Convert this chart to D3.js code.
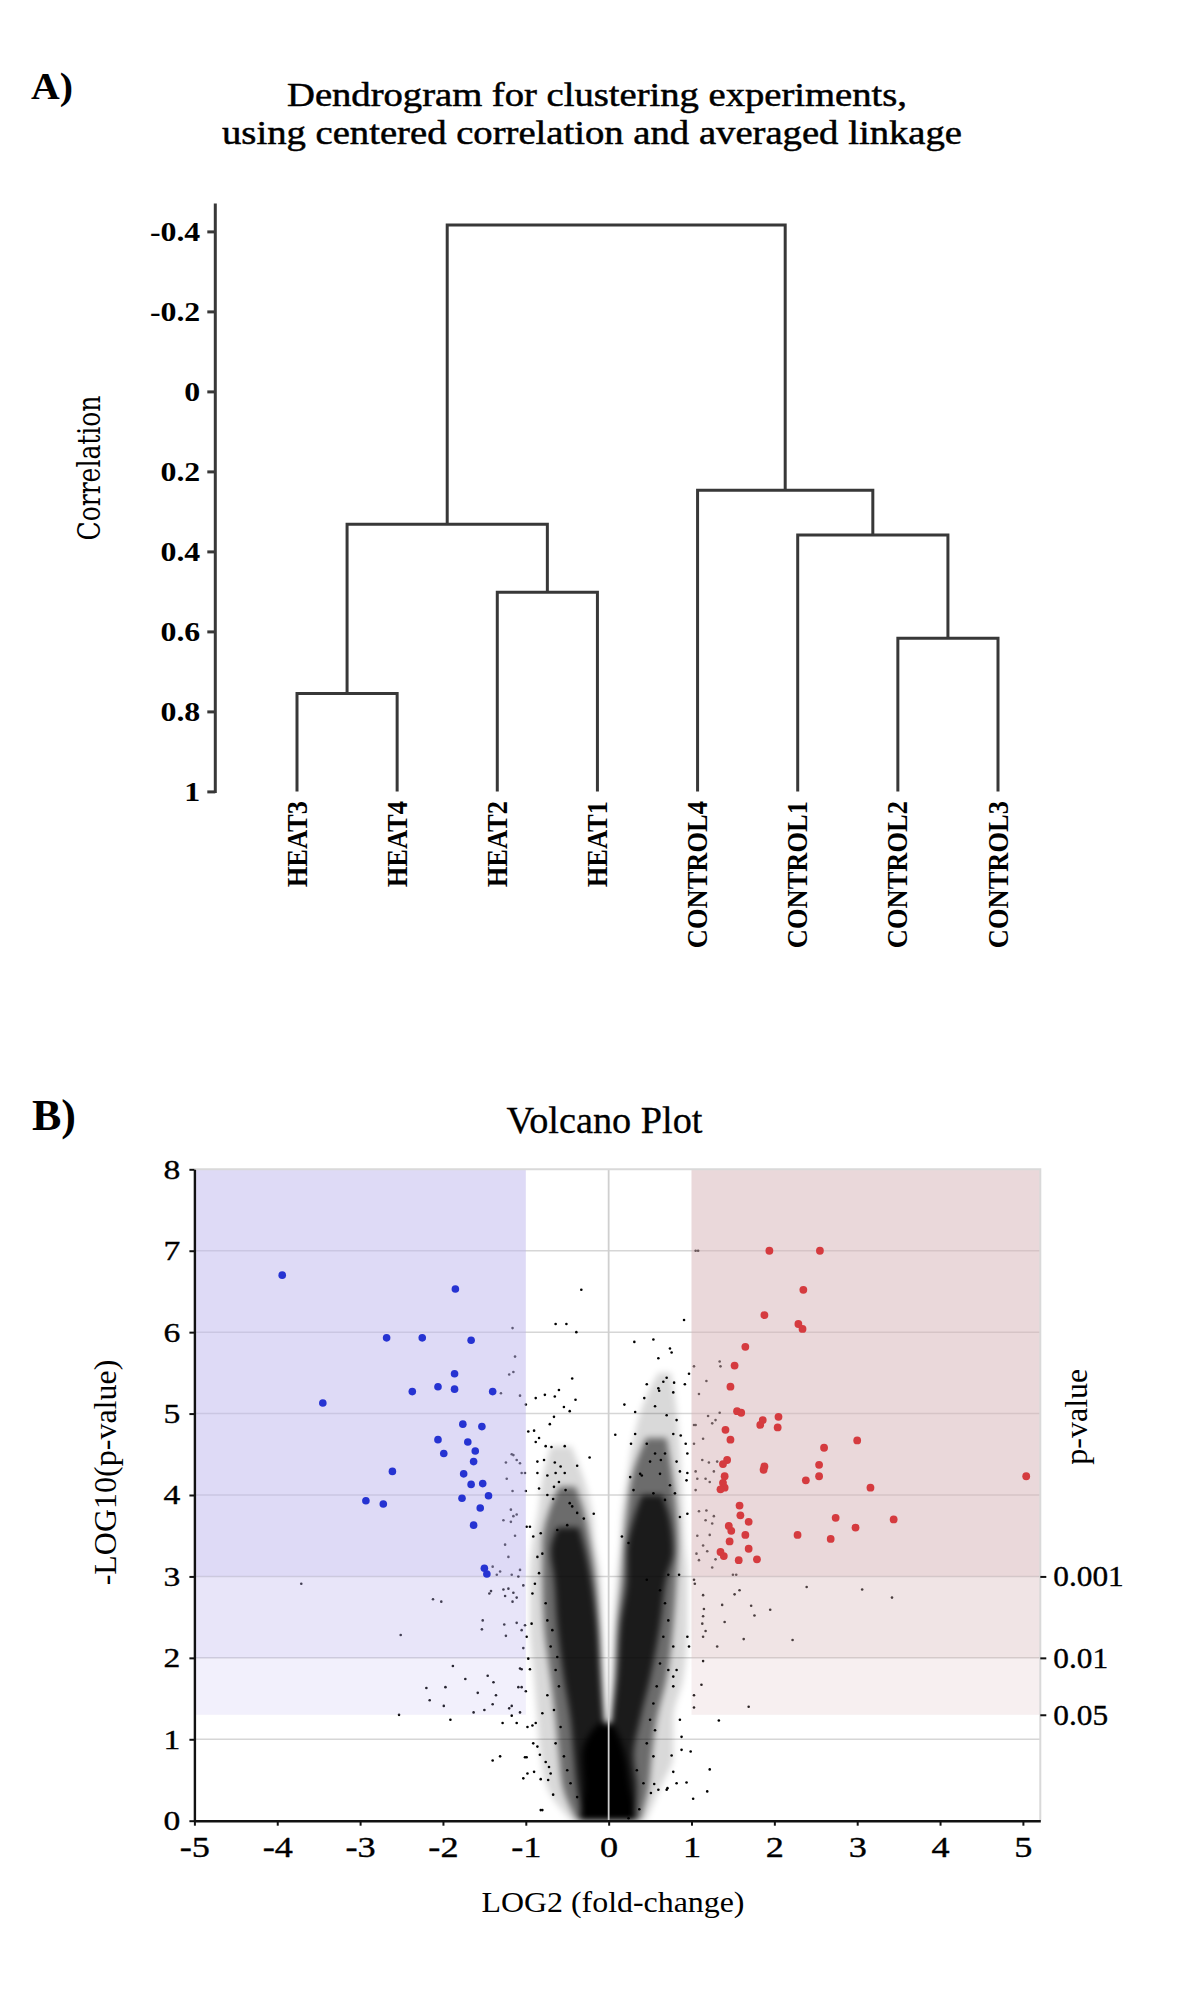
<!DOCTYPE html>
<html><head><meta charset="utf-8">
<script src="https://cdnjs.cloudflare.com/ajax/libs/d3/7.8.5/d3.min.js"></script>
<style>body{margin:0;background:#fff}svg{display:block}</style>
</head><body><svg id="c" width="1200" height="2006"></svg>
<script>
// ================= DATA =================
// Panel A : dendrogram (centered correlation, average linkage)
const leafNames = ["HEAT3","HEAT4","HEAT2","HEAT1","CONTROL4","CONTROL1","CONTROL2","CONTROL3"];
const leafHeight = 1;
const mergeA = ["HEAT3","HEAT2","CONTROL2","CONTROL1","m1","CONTROL4","m5"];
const mergeB = ["HEAT4","HEAT1","CONTROL3","m3","m2","m4","m6"];
const mergeHeight = [0.755, 0.502, 0.617, 0.359, 0.332, 0.247, -0.416];
const corrTicks = [-0.4,-0.2,0,0.2,0.4,0.6,0.8,1];
const corrTickLabels = ["-0.4","-0.2","0","0.2","0.4","0.6","0.8","1"];

// Panel B : volcano plot
const fcTicks = [-5,-4,-3,-2,-1,0,1,2,3,4,5];
const fcTickLabels = ["-5","-4","-3","-2","-1","0","1","2","3","4","5"];
const logpTicks = [0,1,2,3,4,5,6,7,8];
const logpTickLabels = ["0","1","2","3","4","5","6","7","8"];
const pValueTicks = [0.001, 0.01, 0.05];
const pValueLabels = ["0.001","0.01","0.05"];
const fcThreshold = 1;

// significant down-regulated (blue): [log2FC, -log10 p]
const downGenes = [[-3.94,6.70],[-1.85,6.53],[-2.68,5.93],[-2.25,5.93],[-1.66,5.90],[-1.86,5.49],[-2.06,5.33],[-1.86,5.30],[-2.37,5.27],[-1.40,5.27],[-3.45,5.13],[-1.76,4.87],[-1.53,4.84],[-2.06,4.68],[-1.70,4.65],[-1.99,4.51],[-1.61,4.54],[-1.63,4.41],[-2.61,4.29],[-1.75,4.26],[-1.66,4.13],[-1.52,4.14],[-1.45,3.99],[-1.77,3.96],[-2.93,3.93],[-2.72,3.89],[-1.55,3.84],[-1.63,3.63],[-1.50,3.10],[-1.47,3.03]];
// significant up-regulated (red)
const upGenes = [[1.94,7.00],[2.55,7.00],[2.35,6.52],[1.88,6.21],[2.29,6.10],[2.34,6.04],[1.65,5.82],[1.52,5.59],[1.47,5.33],[1.55,5.03],[1.60,5.01],[2.05,4.96],[1.86,4.92],[1.83,4.86],[2.04,4.83],[1.41,4.80],[1.47,4.68],[3.00,4.67],[2.60,4.58],[1.43,4.43],[1.38,4.38],[2.54,4.37],[1.88,4.35],[1.87,4.31],[1.40,4.23],[5.04,4.23],[2.54,4.23],[2.38,4.18],[1.38,4.15],[1.40,4.09],[1.35,4.07],[3.16,4.09],[1.58,3.87],[1.59,3.75],[2.74,3.72],[3.44,3.70],[1.69,3.67],[1.45,3.62],[1.48,3.56],[2.98,3.60],[1.65,3.51],[2.28,3.51],[2.68,3.46],[1.46,3.43],[1.69,3.34],[1.35,3.30],[1.39,3.25],[1.57,3.20],[1.79,3.21]];
// other genes (sparse part of the cloud)
const otherGenes = [[-3.71,2.91],[-1.40,3.12],[-1.31,3.06],[-1.35,3.02],[-1.17,3.02],[-1.09,3.00],[-1.44,2.79],[-1.42,2.82],[-1.27,2.84],[-1.21,2.85],[-1.25,2.76],[-1.15,2.80],[-1.11,2.74],[-1.16,2.69],[-2.12,2.72],[-2.02,2.69],[-1.03,2.89],[-1.52,2.46],[-1.53,2.35],[-2.51,2.28],[-1.26,2.41],[-1.24,2.27],[-1.11,2.43],[-1.05,2.34],[-1.01,2.40],[-1.03,2.12],[-1.88,1.90],[-1.73,1.74],[-1.46,1.78],[-1.39,1.70],[-2.20,1.63],[-2.16,1.48],[-1.97,1.64],[-1.58,1.57],[-1.36,1.54],[-1.09,1.64],[-1.05,1.64],[-1.07,1.87],[-1.05,1.86],[-1.00,1.59],[-1.99,1.41],[-1.40,1.43],[-1.20,1.38],[-1.17,1.41],[-1.50,1.36],[-1.63,1.33],[-1.07,1.33],[-2.53,1.30],[-1.91,1.24],[-1.28,1.20],[-1.17,1.29],[-1.11,1.20],[-1.40,0.74],[-1.31,0.79],[-1.01,0.78],[-0.82,0.13],[-1.03,0.52],[-0.98,0.58],[-0.90,0.60],[-0.98,1.15],[-0.92,1.17],[-0.88,1.20],[-0.67,0.32],
[1.04,2.91],[1.03,2.96],[1.50,3.02],[1.54,3.02],[1.58,2.83],[1.52,2.78],[2.39,2.87],[1.14,2.77],[1.15,2.60],[1.14,2.51],[1.13,2.42],[1.17,2.33],[1.14,2.26],[1.37,2.65],[1.72,2.64],[1.76,2.52],[1.40,2.44],[1.95,2.59],[1.63,2.23],[2.22,2.22],[1.31,2.14],[1.14,1.96],[1.12,1.67],[1.69,1.40],[1.33,1.23],[1.03,1.54],[1.03,1.39],[0.99,0.85],[1.02,0.27],[1.22,0.63],[1.19,0.36],[0.76,0.80],[0.78,0.60],[0.94,0.47],[0.82,0.46],[0.60,0.38],[0.70,0.38],[0.88,0.87],[0.88,1.03],[0.86,1.24],[0.78,1.65],[0.95,2.26],[0.97,2.14],[0.78,1.77],[0.82,1.85],[0.72,3.02],[0.85,3.02],[0.24,0.03],[0.37,0.14],[-0.80,0.13],[-0.99,0.78],[-0.82,0.51],[-0.73,0.50],[-0.70,0.58],[-0.83,0.81],[-0.76,0.72],[-0.72,0.66],[-0.91,0.95],[-0.86,0.91],[-0.97,1.99],[-0.95,1.86],[-0.99,2.26],[-0.93,2.42],[-0.92,2.79],[-0.89,2.91],[-0.84,3.04],[-0.76,2.67],[-0.74,2.46],[-0.68,2.34],[-0.70,2.14],[-0.62,2.01],[-0.64,1.85],[-0.60,1.65],[-0.74,1.54],[-0.66,1.36],[-0.80,1.32],[-0.58,1.15],[-0.64,0.95],[-0.54,0.79],[-0.50,0.62],[-0.46,0.46],[-0.38,0.29],[0.46,2.96],[0.62,2.83],[0.68,2.67],[0.72,2.46],[0.66,2.26],[0.78,2.14],[0.62,1.93],[0.72,1.85],[0.58,1.65],[0.54,1.44],[0.50,1.24],[0.56,1.11],[0.46,0.95],[0.54,0.79],[0.34,0.62],[0.42,0.46],
[-0.33,6.52],[-0.64,6.10],[-0.51,6.10],[-0.39,6.00],[-0.44,5.43],[-0.88,5.19],[-0.77,5.23],[-0.65,5.21],[-0.60,5.29],[-0.40,5.17],[-0.54,5.08],[-0.47,5.03],[-0.66,4.96],[-0.71,4.87],[-0.90,4.79],[-0.84,4.70],[-0.53,4.60],[-0.69,4.59],[-0.76,4.60],[-0.86,4.41],[-0.78,4.43],[-0.23,4.46],[-0.38,4.36],[-0.65,4.40],[-0.58,4.35],[-0.97,4.78],[-0.88,4.65],[-0.74,4.24],[-0.86,4.27],[-0.64,4.27],[-0.53,4.27],[-0.66,4.10],[-0.60,4.16],[-0.74,4.00],[-0.67,3.95],[-0.84,4.08],[-0.52,4.06],[-0.47,3.90],[-0.44,3.86],[-0.38,3.78],[-0.30,3.71],[-0.18,3.77],[-0.50,3.63],[-0.62,3.57],[-0.82,3.53],[-0.91,3.49],[-0.95,3.61],[-0.80,3.28],[-0.86,3.24],
[0.91,6.15],[0.31,5.88],[0.54,5.91],[0.60,5.68],[0.74,5.80],[0.76,5.75],[0.70,5.44],[0.79,5.38],[0.66,5.39],[0.46,5.36],[0.60,5.31],[0.61,5.28],[0.78,5.26],[0.92,5.36],[0.43,5.19],[0.19,5.11],[0.56,5.09],[0.32,5.02],[0.70,4.98],[0.82,4.92],[0.08,4.74],[0.27,4.63],[0.32,4.75],[0.46,4.63],[0.56,4.51],[0.78,4.75],[0.87,4.73],[0.93,4.63],[0.95,4.51],[0.68,4.51],[0.63,4.43],[0.50,4.41],[0.40,4.24],[0.82,4.41],[0.86,4.29],[0.26,4.22],[0.38,4.26],[0.62,4.26],[0.74,4.12],[0.95,4.27],[0.94,4.18],[0.30,4.06],[0.54,4.02],[0.80,4.02],[0.68,3.94],[0.86,3.73],[0.95,3.77],[0.16,3.49],[0.24,3.41],
[-1.16,6.05],[-1.13,5.70],[-1.20,5.48],[-1.15,5.51],[-1.30,5.25],[-1.07,5.22],[-1.00,5.11],[-1.17,4.50],[-1.15,4.49],[-1.24,4.40],[-1.11,4.43],[-1.07,4.39],[-1.05,4.27],[-1.01,4.27],[-1.23,4.20],[-1.16,4.05],[-1.00,4.05],[-1.18,3.82],[-1.18,3.67],[-1.15,3.74],[-1.11,3.76],[-1.27,3.69],[-0.99,3.61],[-1.25,3.39],[-1.21,3.24],[-1.13,3.50],[-1.07,3.08],
[1.03,5.58],[1.34,5.64],[1.35,5.58],[0.97,5.49],[1.18,5.40],[1.09,5.24],[1.20,4.97],[1.25,4.88],[1.29,4.92],[1.34,5.01],[1.03,4.86],[1.05,4.86],[1.14,4.69],[1.03,4.63],[1.13,4.43],[1.21,4.40],[1.31,4.41],[1.05,4.29],[1.07,4.20],[1.17,4.20],[1.22,4.16],[1.27,4.29],[1.05,4.06],[1.09,3.80],[1.18,3.81],[1.17,3.69],[1.25,3.65],[1.27,3.74],[1.07,3.50],[1.14,3.38],[1.22,3.51],[1.19,3.31],[1.29,3.21],[1.06,3.28],[1.09,3.20],[1.25,3.11],[1.05,7.00],[1.08,7.00],
[3.06,2.84],[3.42,2.74],[0.51,0.34],[0.71,0.40],[0.55,0.45]];
// dense part of the cloud, outlined as bands: [-log10 p, left log2FC, right log2FC]
const leftHaloBand = [[0,-0.45,0],[0.4,-0.74,0],[0.8,-0.82,0],[1.25,-0.86,-0.04],[1.75,-0.90,-0.06],[2.4,-0.95,-0.08],[3.0,-0.95,-0.10],[3.4,-0.92,-0.16],[3.8,-0.85,-0.20],[4.2,-0.80,-0.30],[4.6,-0.70,-0.45]];
const rightHaloBand = [[0,0,0.45],[0.4,0,0.62],[0.8,0,0.78],[1.25,0.02,0.78],[1.75,0.04,0.90],[2.4,0.06,0.95],[3.0,0.10,0.95],[3.4,0.14,0.92],[3.8,0.16,0.90],[4.2,0.22,0.88],[4.7,0.30,0.85],[5.2,0.45,0.80],[5.5,0.60,0.75]];
const leftMidBand = [[0,-0.38,0],[0.4,-0.55,0],[0.8,-0.60,0],[1.25,-0.64,-0.05],[1.75,-0.70,-0.08],[2.4,-0.78,-0.11],[3.0,-0.80,-0.16],[3.4,-0.80,-0.22],[3.8,-0.72,-0.30],[4.1,-0.60,-0.40]];
const rightMidBand = [[0,0,0.38],[0.4,0,0.48],[0.8,0,0.52],[1.25,0.03,0.58],[1.75,0.07,0.70],[2.4,0.10,0.78],[3.0,0.16,0.82],[3.4,0.18,0.84],[3.8,0.22,0.82],[4.3,0.30,0.76],[4.7,0.45,0.70]];
const leftDenseBand = [[0,-0.30,0],[0.4,-0.38,0],[0.8,-0.42,0],[1.25,-0.46,-0.06],[1.75,-0.54,-0.10],[2.4,-0.62,-0.14],[3.0,-0.66,-0.22],[3.3,-0.70,-0.28],[3.6,-0.62,-0.36]];
const rightDenseBand = [[0,0,0.30],[0.4,0,0.34],[0.8,0,0.30],[1.25,0.04,0.38],[1.75,0.10,0.50],[2.4,0.14,0.62],[3.0,0.22,0.70],[3.3,0.22,0.78],[3.7,0.30,0.74],[4.0,0.40,0.65]];
const coreBand = [[0,-0.34,0.32],[0.1,-0.34,0.32],[0.4,-0.30,0.26],[0.8,-0.32,0.20],[1.05,-0.24,0.12],[1.2,-0.12,0.04]];

// ================= DRAW =================
const svg = d3.select("#c");
const SERIF = "'Liberation Serif','Times New Roman',serif";
const DSERIF = "'DejaVu Serif',serif";

function label(t, x, y, size, opts) {
  opts = opts || {};
  const el = svg.append("text").attr("x", x).attr("y", y)
    .attr("font-family", opts.family || SERIF).attr("font-size", size)
    .attr("font-weight", opts.weight || "normal").attr("fill", "#000")
    .attr("text-anchor", opts.anchor || "middle").text(t);
  if (opts.len) el.attr("textLength", opts.len).attr("lengthAdjust", "spacingAndGlyphs");
  if (opts.heavy) el.attr("stroke", "#000").attr("stroke-width", opts.heavy);
  return el;
}

// ---------- Panel A ----------
label("A)", 31, 99, 38, {weight: "bold", anchor: "start", len: 42});
label("Dendrogram for clustering experiments,", 597, 106, 33, {len: 620, heavy: 0.5});
label("using centered correlation and averaged linkage", 592, 144, 33, {len: 740, heavy: 0.5});

const xLeaf = d3.scalePoint().domain(leafNames).range([297, 998]);
const yCorr = d3.scaleLinear().domain([-0.4, 1]).range([231.4, 791.4]);
const corrAxisTop = -0.47;

const gA = svg.append("g");
const nodes = {};
leafNames.forEach(n => nodes[n] = {x: xLeaf(n), h: leafHeight});
const linkPaths = [];
mergeA.forEach((a, i) => {
  const A = nodes[a], B = nodes[mergeB[i]], h = mergeHeight[i];
  linkPaths.push(`M${A.x},${yCorr(A.h)}V${yCorr(h)}H${B.x}V${yCorr(B.h)}`);
  nodes["m" + (i + 1)] = {x: (A.x + B.x) / 2, h: h};
});
gA.selectAll("path.link").data(linkPaths).join("path").attr("class", "link")
  .attr("d", d => d).attr("fill", "none").attr("stroke", "#383838")
  .attr("stroke-width", 3).attr("stroke-linejoin", "miter");

const axA = svg.append("g").attr("transform", "translate(215.3,0)")
  .call(d3.axisLeft(yCorr).tickValues(corrTicks).tickSize(8).tickPadding(7)
    .tickSizeOuter(0).tickFormat((d, i) => corrTickLabels[i]));
axA.select(".domain").remove();
axA.append("line").attr("x1", 0).attr("x2", 0).attr("y1", yCorr(corrAxisTop)).attr("y2", yCorr(1) + 1.5)
  .attr("stroke", "#383838").attr("stroke-width", 3);
axA.selectAll(".tick line").attr("stroke", "#383838").attr("stroke-width", 3);
axA.selectAll(".tick text").attr("x", 0).attr("font-family", SERIF).attr("font-weight", "bold")
  .attr("font-size", 27).attr("fill", "#000").attr("transform", "translate(-15,0) scale(1.18,1)");

svg.append("text").attr("transform", "translate(99.5,468) scale(1.3,1) rotate(-90)")
  .attr("text-anchor", "middle").attr("font-family", DSERIF).attr("font-size", 25)
  .attr("fill", "#000").text("Correlation");

svg.selectAll("text.leaf").data(leafNames).join("text").attr("class", "leaf")
  .attr("transform", d => `translate(${xLeaf(d)},801) scale(1.1,1) rotate(-90)`)
  .attr("dy", "0.33em").attr("text-anchor", "end").attr("font-family", SERIF).attr("font-weight", "bold")
  .attr("font-size", 26.5).attr("fill", "#000").text(d => d);

// ---------- Panel B ----------
label("B)", 32, 1130, 44, {weight: "bold", anchor: "start", len: 44});
label("Volcano Plot", 604.5, 1133, 37, {len: 196, heavy: 0.3});

const fcMax = 5.21;
const x = d3.scaleLinear().domain([-5, fcMax]).range([194.4, 1040.3]);
const y = d3.scaleLinear().domain([0, 8]).range([1820.7, 1169.3]);

const defs = svg.append("defs");
defs.append("clipPath").attr("id", "plotClip").append("rect")
  .attr("x", x(-5)).attr("y", y(8)).attr("width", x(fcMax) - x(-5)).attr("height", y(0) - y(8));
defs.append("filter").attr("id", "soft").attr("x", "-20%").attr("y", "-5%").attr("width", "140%").attr("height", "110%")
  .append("feGaussianBlur").attr("stdDeviation", 3);

const gB = svg.append("g");
// horizontal grid
gB.selectAll("line.hgrid").data(logpTicks.filter(v => v > 0 && v < 8)).join("line")
  .attr("x1", x(-5)).attr("x2", x(fcMax)).attr("y1", d => y(d)).attr("y2", d => y(d))
  .attr("stroke", "#d6d6d6").attr("stroke-width", 1.5);

// dense cloud (density bands)
const band = d3.area().y(d => y(d[0])).x0(d => x(d[1])).x1(d => x(d[2])).curve(d3.curveMonotoneY);
const cloud = gB.append("g").attr("clip-path", "url(#plotClip)").append("g").attr("filter", "url(#soft)");
[[leftHaloBand, 0.15], [rightHaloBand, 0.15], [leftMidBand, 0.5], [rightMidBand, 0.5],
 [leftDenseBand, 0.75], [rightDenseBand, 0.75], [coreBand, 1]]
  .forEach(([b, op]) => cloud.append("path").attr("d", band(b)).attr("fill", "#000").attr("fill-opacity", op));

// sparse genes
gB.selectAll("circle.ns").data(otherGenes).join("circle").attr("class", "ns")
  .attr("cx", d => x(d[0])).attr("cy", d => y(d[1])).attr("r", 1.3).attr("fill", "#000");

// significance shading (semi-transparent overlays)
const tiers = [[3, 8, 0.5], [2, 3, 0.35], [-Math.log10(0.05), 2, 0.2]];
tiers.forEach(([lo, hi, op]) => {
  gB.append("rect").attr("x", x(-5)).attr("width", x(-fcThreshold) - x(-5))
    .attr("y", y(hi)).attr("height", y(lo) - y(hi)).attr("fill", "rgb(189,181,238)").attr("fill-opacity", op);
  gB.append("rect").attr("x", x(fcThreshold)).attr("width", x(fcMax) - x(fcThreshold))
    .attr("y", y(hi)).attr("height", y(lo) - y(hi)).attr("fill", "rgb(213,177,181)").attr("fill-opacity", op);
});

// vertical zero line
gB.append("line").attr("x1", x(0)).attr("x2", x(0)).attr("y1", y(0)).attr("y2", y(8))
  .attr("stroke", "#cfcfcf").attr("stroke-width", 1.8);

// significant genes
gB.selectAll("circle.down").data(downGenes).join("circle").attr("class", "down")
  .attr("cx", d => x(d[0])).attr("cy", d => y(d[1])).attr("r", 3.8).attr("fill", "#2633d2");
gB.selectAll("circle.up").data(upGenes).join("circle").attr("class", "up")
  .attr("cx", d => x(d[0])).attr("cy", d => y(d[1])).attr("r", 3.9).attr("fill", "#d53b3f");

// frame (top & right)
gB.append("path").attr("d", `M${x(-5)},${y(8)}H${x(fcMax)}V${y(0)}`)
  .attr("fill", "none").attr("stroke", "#d9d9d9").attr("stroke-width", 2);

// axes
const axL = svg.append("g").attr("transform", `translate(${x(-5)},0)`)
  .call(d3.axisLeft(y).tickValues(logpTicks).tickSize(5).tickSizeOuter(0).tickFormat((d, i) => logpTickLabels[i]));
const axBt = svg.append("g").attr("transform", `translate(0,${y(0)})`)
  .call(d3.axisBottom(x).tickValues(fcTicks).tickSize(5).tickSizeOuter(0).tickFormat((d, i) => fcTickLabels[i]));
const axR = svg.append("g").attr("transform", `translate(${x(fcMax)},0)`)
  .call(d3.axisRight(y).tickValues(pValueTicks.map(p => -Math.log10(p))).tickSize(6).tickSizeOuter(0)
    .tickFormat((d, i) => pValueLabels[i]));
axR.select(".domain").remove();
[axL, axBt, axR].forEach(g => {
  g.select(".domain").attr("stroke", "#111").attr("stroke-width", 2.4);
  g.selectAll(".tick line").attr("stroke", "#111").attr("stroke-width", 2);
  g.selectAll(".tick text").attr("font-family", SERIF).attr("fill", "#000")
    .attr("stroke", "#000").attr("stroke-width", 0.35);
});
axL.selectAll(".tick text").attr("x", 0).attr("font-size", 28).attr("transform", "translate(-14,0) scale(1.2,1)");
axBt.selectAll(".tick text").attr("y", 16).attr("font-size", 29).attr("transform", "scale(1.25,1)");
axR.selectAll(".tick text").attr("x", 0).attr("font-size", 29).attr("transform", "translate(13,0) scale(1.08,1)");

svg.append("text").attr("transform", "translate(116,1472.5) rotate(-90)").attr("text-anchor", "middle")
  .attr("font-family", SERIF).attr("font-size", 32).attr("fill", "#000").text("-LOG10(p-value)");
svg.append("text").attr("transform", "translate(1087,1416.7) rotate(-90)").attr("text-anchor", "middle")
  .attr("font-family", SERIF).attr("font-size", 32).attr("fill", "#000").text("p-value");
label("LOG2 (fold-change)", 613, 1912, 30, {len: 263});
</script></body></html>
